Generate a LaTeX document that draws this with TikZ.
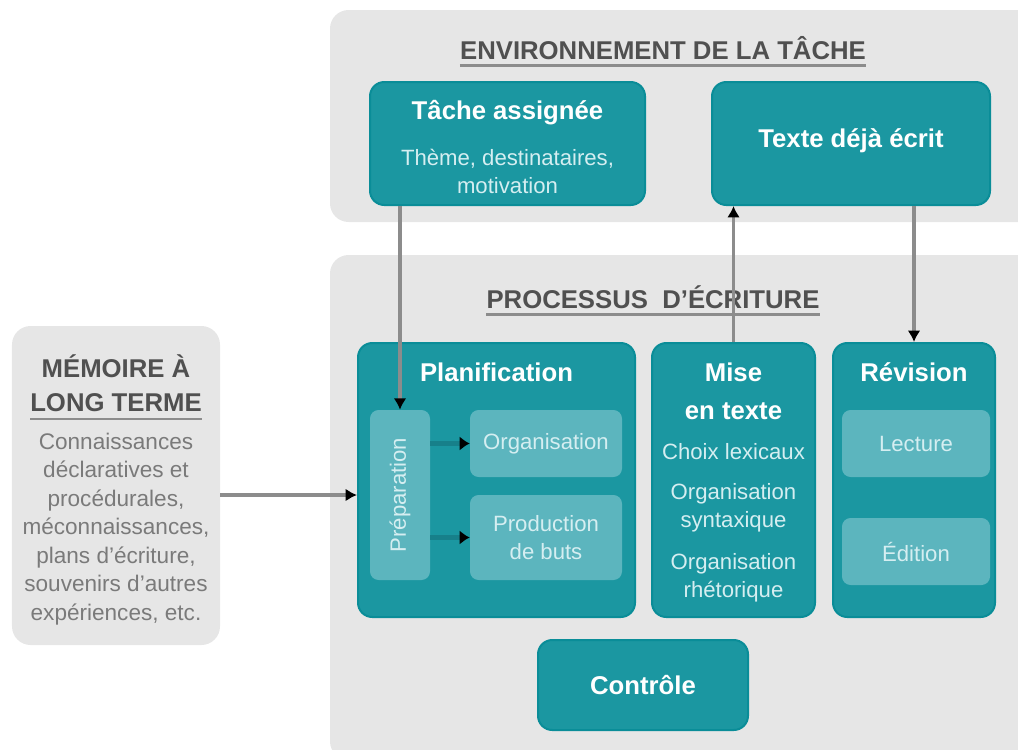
\documentclass[tikz,border=0pt]{standalone}
\usepackage{fontspec}
\setmainfont{Liberation Sans}
\usetikzlibrary{arrows.meta,positioning}
\definecolor{panelgrey}{HTML}{E6E6E6}
\definecolor{tealfill}{HTML}{1B97A1}
\definecolor{tealborder}{HTML}{0A8D98}
\definecolor{teallight}{HTML}{5CB5BE}
\definecolor{tealtext}{HTML}{D5EEF1}
\definecolor{headgrey}{HTML}{505050}
\definecolor{bodygrey}{HTML}{7A7A7A}
\definecolor{linegrey}{HTML}{8C8C8C}
\definecolor{darkteal}{HTML}{17808A}

\begin{document}
\begin{tikzpicture}[x=0.7pt,y=-0.7pt,
  panel/.style={fill=panelgrey,rounded corners=13pt,inner sep=0pt},
  bigbox/.style={fill=tealfill,draw=tealborder,line width=1.4pt,rounded corners=10pt,inner sep=0pt},
  subbox/.style={fill=teallight,rounded corners=6pt,inner sep=0pt,text=tealtext,
    font=\fontsize{15.5}{19.6}\selectfont,align=center},
  head/.style={font=\bfseries\fontsize{18}{22}\selectfont,text=headgrey,inner sep=0pt},
  boxtitle/.style={font=\bfseries\fontsize{18}{26.6}\selectfont,text=white,align=center},
  boxtext/.style={font=\fontsize{15.5}{19.6}\selectfont,text=tealtext,align=center},
  link/.style={draw=linegrey,line width=2.2pt,-{Latex[length=8pt,width=9pt,color=black]}},
  sublink/.style={draw=darkteal,line width=4pt,-{Latex[length=7pt,width=10pt,color=black]}},
  ]
  \useasboundingbox (0,0) rectangle (1018,749);
  % panels
  \node[panel,minimum width=497pt,minimum height=148.4pt] (env) at (685,116) {};
  \node[panel,minimum width=497pt,minimum height=353.5pt] (proc) at (685,507.5) {};
  \node[panel,minimum width=145.6pt,minimum height=223.3pt] (memo) at (116,485.5) {};

  \node[head] (envtitle) at (663,48) {ENVIRONNEMENT DE LA TÂCHE};
  \draw[draw=linegrey,line width=2pt] ([yshift=-4pt]envtitle.south west) -- ([yshift=-4pt]envtitle.south east);
  \node[head] (proctitle) at (653,297) {PROCESSUS\ \ D'ÉCRITURE};
  \draw[draw=linegrey,line width=2pt] ([yshift=-4pt]proctitle.south west) -- ([yshift=-4pt]proctitle.south east);

  % long-term memory
  \node[head,align=center,font=\bfseries\fontsize{18}{23.8}\selectfont] (memotitle) at (116,383) {MÉMOIRE À\\LONG TERME};
  \draw[draw=linegrey,line width=2pt] ([yshift=-5pt]memotitle.south west) -- ([yshift=-5pt]memotitle.south east);
  \node[align=center,text=bodygrey,font=\fontsize{15.8}{20}\selectfont] (memotext) at (116,529)
    {Connaissances\\déclaratives et\\procédurales,\\méconnaissances,\\plans d'écriture,\\souvenirs d'autres\\expériences, etc.};

  % task environment
  \node[bigbox,minimum width=192.5pt,minimum height=86.1pt] (tache) at (507.5,143.5) {};
  \node[boxtitle] (tachetitle) at (507.5,113) {Tâche assignée};
  \node[boxtext] (tachetext) at (507.5,171) {Thème, destinataires,\\motivation};
  \node[bigbox,minimum width=194.6pt,minimum height=86.1pt] (texte) at (851,143.5) {};
  \node[boxtitle] (textetitle) at (851,141) {Texte déjà écrit};

  % writing process
  \node[bigbox,minimum width=193.9pt,minimum height=191.8pt] (planif) at (496.5,480) {};
  \node[boxtitle] (planiftitle) at (496.5,372) {Planification};
  \node[subbox,minimum width=42pt,minimum height=119pt] (prep) at (400,495) {};
  \node[boxtext,rotate=90] (preptext) at (prep.center) {Préparation};
  \node[subbox,minimum width=106.4pt,minimum height=46.9pt] (orga) at (546,443.5) {Organisation};
  \node[subbox,minimum width=106.4pt,minimum height=59.5pt] (prod) at (546,537.5) {Production\\de buts};

  \node[bigbox,minimum width=114.1pt,minimum height=191.8pt] (mise) at (733.5,480) {};
  \node[boxtitle] (misetitle) at (733.5,391) {Mise\\en texte};
  \node[boxtext] (lex) at (733.5,452) {Choix lexicaux};
  \node[boxtext] (synt) at (733.5,508) {Organisation\\syntaxique};
  \node[boxtext] (rhet) at (733.5,578) {Organisation\\rhétorique};

  \node[bigbox,minimum width=113.4pt,minimum height=191.8pt] (revi) at (914,480) {};
  \node[boxtitle] (revititle) at (914,372) {Révision};
  \node[subbox,minimum width=103.6pt,minimum height=46.9pt] (lect) at (916,443.5) {Lecture};
  \node[subbox,minimum width=103.6pt,minimum height=46.9pt] (edit) at (916,551.5) {Édition};

  \node[bigbox,minimum width=147pt,minimum height=63pt,boxtitle] (ctrl) at (643,685) {Contrôle};

  % connectors
  \draw[link] (memo.east |- prep.center) -- (planif.west |- prep.center);
  \draw[link] (tache.south -| prep.north) -- (prep.north);
  \draw[sublink] (prep.east |- orga.center) -- (orga.west);
  \draw[sublink] (prep.east |- prod.center) -- (prod.west);
  \draw[link] (mise.north) -- (mise.north |- texte.south);
  \draw[link] (texte.south -| revi.north) -- (revi.north);
\end{tikzpicture}
\end{document}
